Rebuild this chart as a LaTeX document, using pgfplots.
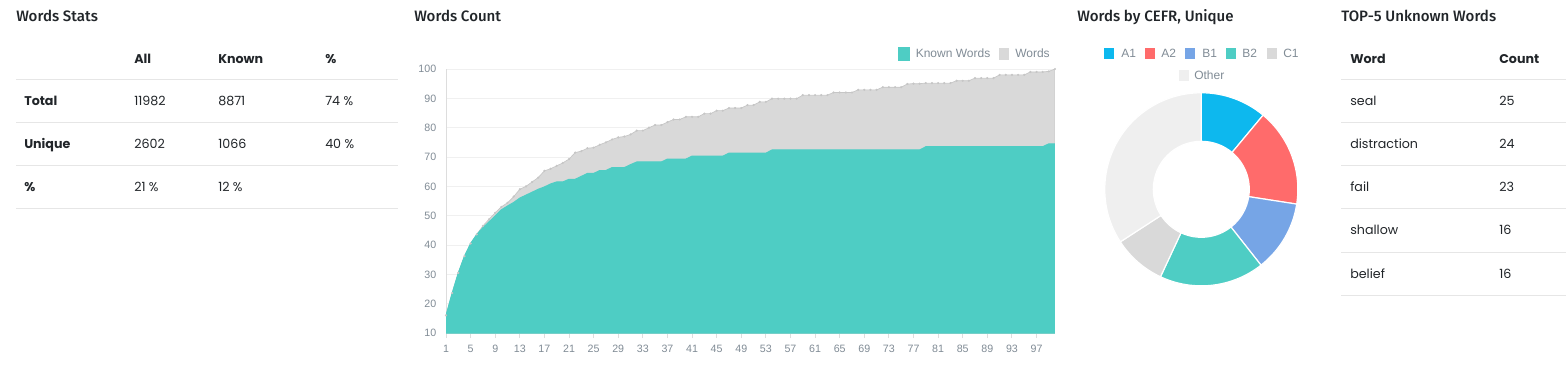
\documentclass[border=0pt]{standalone}
\usepackage{fontspec}
\usepackage{pgfplots}
\usepackage{pgfplotstable}
\pgfplotsset{compat=1.18}
\newfontfamily\titlefont{Fira Sans Medium}
\newfontfamily\tabfont{Poppins}
\newfontfamily\chartfont{Liberation Sans}
\definecolor{teal1}{HTML}{4ECDC4}
\definecolor{areagray}{HTML}{D9D9D9}
\definecolor{markgray}{HTML}{C6C6C6}
\definecolor{cA}{HTML}{0DB8EE}
\definecolor{cB}{HTML}{FF6B6B}
\definecolor{cC}{HTML}{76A5E6}
\definecolor{cD}{HTML}{4ECDC4}
\definecolor{cE}{HTML}{D9D9D9}
\definecolor{cF}{HTML}{EFEFEF}
\definecolor{txt}{HTML}{212529}
\definecolor{lbl}{HTML}{808B95}
\definecolor{rulec}{HTML}{E6E6E6}
\definecolor{gridc}{HTML}{F0F0F0}
\definecolor{axisc}{HTML}{DDDDDD}

\pgfplotstableread{
x known words
1 16 16
2 23.6 23.6
3 30.5 30.5
4 36.2 36.2
5 40.5 40.5
6 43.6 43.6
7 45.9 46.5
8 47.9 48.8
9 49.9 51
10 52 53
11 53.3 54.4
12 54.5 56.5
13 56 59
14 57 60
15 58 61.5
16 59 63
17 59.8 65.3
18 60.8 66
19 61.5 67
20 61.5 68
21 62.4 69.3
22 62.4 71.5
23 63.4 72
24 64.4 73
25 64.4 73.2
26 65.4 74.2
27 65.4 75
28 66.4 76
29 66.4 76.7
30 66.4 77
31 67.4 77.7
32 68.3 79
33 68.3 79
34 68.3 80
35 68.3 80.9
36 68.3 80.9
37 69.3 81.9
38 69.3 82.8
39 69.3 82.8
40 69.3 83.7
41 70.3 83.7
42 70.3 83.7
43 70.3 84.8
44 70.3 84.8
45 70.3 85.8
46 70.3 85.8
47 71.3 86.7
48 71.3 86.7
49 71.3 86.7
50 71.3 87.7
51 71.3 87.7
52 71.3 88.8
53 71.3 88.8
54 72.4 89.9
55 72.4 89.9
56 72.4 89.9
57 72.4 89.9
58 72.4 89.9
59 72.4 91.1
60 72.4 91.1
61 72.4 91.1
62 72.4 91.1
63 72.4 91.1
64 72.4 92
65 72.4 92
66 72.4 92
67 72.4 92
68 72.4 92.9
69 72.4 92.9
70 72.4 92.9
71 72.4 92.9
72 72.4 93.8
73 72.4 93.8
74 72.4 93.8
75 72.4 93.8
76 72.4 94.9
77 72.4 95
78 72.4 95
79 73.5 95.2
80 73.5 95.2
81 73.5 95.2
82 73.5 95.2
83 73.5 95.2
84 73.5 96
85 73.5 96
86 73.5 96
87 73.5 96.9
88 73.5 96.9
89 73.5 96.9
90 73.5 96.9
91 73.5 98
92 73.5 98
93 73.5 98
94 73.5 98
95 73.5 98
96 73.5 99
97 73.5 99
98 73.5 99
99 74.5 99.2
100 74.5 100
}\wordsdata

\pgfplotstableread{
level pct
A1 11.06
A2 16.39
B1 11.94
B2 17.56
C1 8.89
Other 34.16
}\cefr

\newcommand\sector[3]{%
  \fill[#1,draw=white,line width=0.9pt] ([shift={(#2:72.4pt)}]axis cs:0,0) arc[start angle=#2,end angle=#3,radius=72.4pt]
    -- ([shift={(#3:36pt)}]axis cs:0,0) arc[start angle=#3,end angle=#2,radius=36pt] -- cycle;}

\begin{document}
\begin{tikzpicture}
\pgfplotstablegetelem{0}{pct}\of\cefr \pgfmathsetmacro\aB{90-3.6*\pgfplotsretval}
\pgfplotstablegetelem{1}{pct}\of\cefr \pgfmathsetmacro\aC{\aB-3.6*\pgfplotsretval}
\pgfplotstablegetelem{2}{pct}\of\cefr \pgfmathsetmacro\aD{\aC-3.6*\pgfplotsretval}
\pgfplotstablegetelem{3}{pct}\of\cefr \pgfmathsetmacro\aE{\aD-3.6*\pgfplotsretval}
\pgfplotstablegetelem{4}{pct}\of\cefr \pgfmathsetmacro\aF{\aE-3.6*\pgfplotsretval}
\pgfplotstablegetelem{5}{pct}\of\cefr \pgfmathsetmacro\aG{\aF-3.6*\pgfplotsretval}

\begin{scope}[x=0.75pt,y=-0.75pt,shift={(0pt,276pt)}]
\path[use as bounding box] (0,0) rectangle (1566,368);
\tikzset{
  ttl/.style={anchor=base west,inner sep=0,font=\titlefont\fontsize{11.3}{13}\selectfont,text=txt},
  th/.style={anchor=base west,inner sep=0,font=\tabfont\bfseries\fontsize{9.5}{11}\selectfont,text=txt},
  td/.style={anchor=base west,inner sep=0,font=\tabfont\fontsize{9.5}{11}\selectfont,text=txt},
  lg/.style={anchor=base west,inner sep=0,font=\chartfont\fontsize{9}{10}\selectfont,text=lbl}
}
% titles
\node[ttl] at (16,21.7) {Words Stats};
\node[ttl] at (414,21.7) {Words Count};
\node[ttl] at (1077,21.7) {Words by CEFR, Unique};
\node[ttl] at (1341,21.7) {TOP-5 Unknown Words};
% left table
\foreach \yy in {80,123,166,209} \draw[rulec,line width=0.75pt] (16,\yy) -- (398,\yy);
\node[th] at (134,63.3) {All};
\node[th] at (218,63.3) {Known};
\node[th] at (325,63.3) {\%};
\node[th] at (24,106) {Total};
\node[td] at (134,106) {11982};
\node[td] at (218,106) {8871};
\node[td] at (325,106) {74 \%};
\node[th] at (24,149) {Unique};
\node[td] at (134,149) {2602};
\node[td] at (218,149) {1066};
\node[td] at (325,149) {40 \%};
\node[th] at (24,192) {\%};
\node[td] at (134,192) {21 \%};
\node[td] at (218,192) {12 \%};
% right table
\foreach \yy in {80,123,166,209,252,295} \draw[rulec,line width=0.75pt] (1341,\yy) -- (1566,\yy);
\node[th] at (1350,63.3) {Word};
\node[th] at (1499,63.3) {Count};
\node[td] at (1350,106) {seal};        \node[td] at (1499,106) {25};
\node[td] at (1350,149) {distraction}; \node[td] at (1499,149) {24};
\node[td] at (1350,192) {fail};        \node[td] at (1499,192) {23};
\node[td] at (1350,235) {shallow};     \node[td] at (1499,235) {16};
\node[td] at (1350,278) {belief};      \node[td] at (1499,278) {16};
% area legend
\fill[teal1] (898,47) rectangle (910,61);
\node[lg] at (915.5,57.3) {Known Words};
\fill[areagray] (999,48) rectangle (1009,60);
\node[lg] at (1015,57.3) {Words};
% pie legend
\fill[cA] (1104,48) rectangle (1114,59); \node[lg] at (1121,57.7) {A1};
\fill[cB] (1145,48) rectangle (1155,59); \node[lg] at (1161,57.7) {A2};
\fill[cC] (1185,48) rectangle (1195,59); \node[lg] at (1202,57.7) {B1};
\fill[cD] (1226,48) rectangle (1236,59); \node[lg] at (1242,57.7) {B2};
\fill[cE] (1267,48) rectangle (1277,59); \node[lg] at (1283,57.7) {C1};
\fill[cF] (1179,70) rectangle (1189,81); \node[lg] at (1194,79.3) {Other};
\end{scope}

% area chart
\begin{axis}[
  at={(334.5pt,26.25pt)}, anchor=south west, scale only axis,
  width=456.75pt, height=198pt,
  xmin=1, xmax=100, ymin=10, ymax=100,
  axis lines*=left,
  axis line style={draw=axisc,line width=0.75pt},
  xtick={1,5,...,97}, ytick={10,20,...,100},
  ymajorgrids, major grid style={draw=gridc,line width=0.75pt},
  tick align=outside, major tick length=3.75pt,
  xtick style={draw=axisc,line width=0.75pt}, ytick style={draw=none},
  tick label style={font=\chartfont\fontsize{8}{9}\selectfont,text=lbl},
  xticklabel style={yshift=-1.8pt},
  /pgf/number format/assume math mode=true,
]
\addplot[fill=areagray,draw=markgray,line width=0.5pt,mark=*,mark size=0.55pt,mark options={fill=markgray,draw=markgray}] table[x=x,y=words]{\wordsdata} \closedcycle;
\addplot[fill=teal1,draw=teal1,line width=0.75pt] table[x=x,y=known]{\wordsdata} \closedcycle;
\end{axis}

% donut
\begin{axis}[at={(900.975pt,134.025pt)}, anchor=center, hide axis, scale only axis,
  width=144.8pt, height=144.8pt, xmin=-1, xmax=1, ymin=-1, ymax=1, clip=false]
\sector{cA}{90}{\aB}
\sector{cB}{\aB}{\aC}
\sector{cC}{\aC}{\aD}
\sector{cD}{\aD}{\aE}
\sector{cE}{\aE}{\aF}
\sector{cF}{\aF}{\aG}
\end{axis}
\end{tikzpicture}
\end{document}
